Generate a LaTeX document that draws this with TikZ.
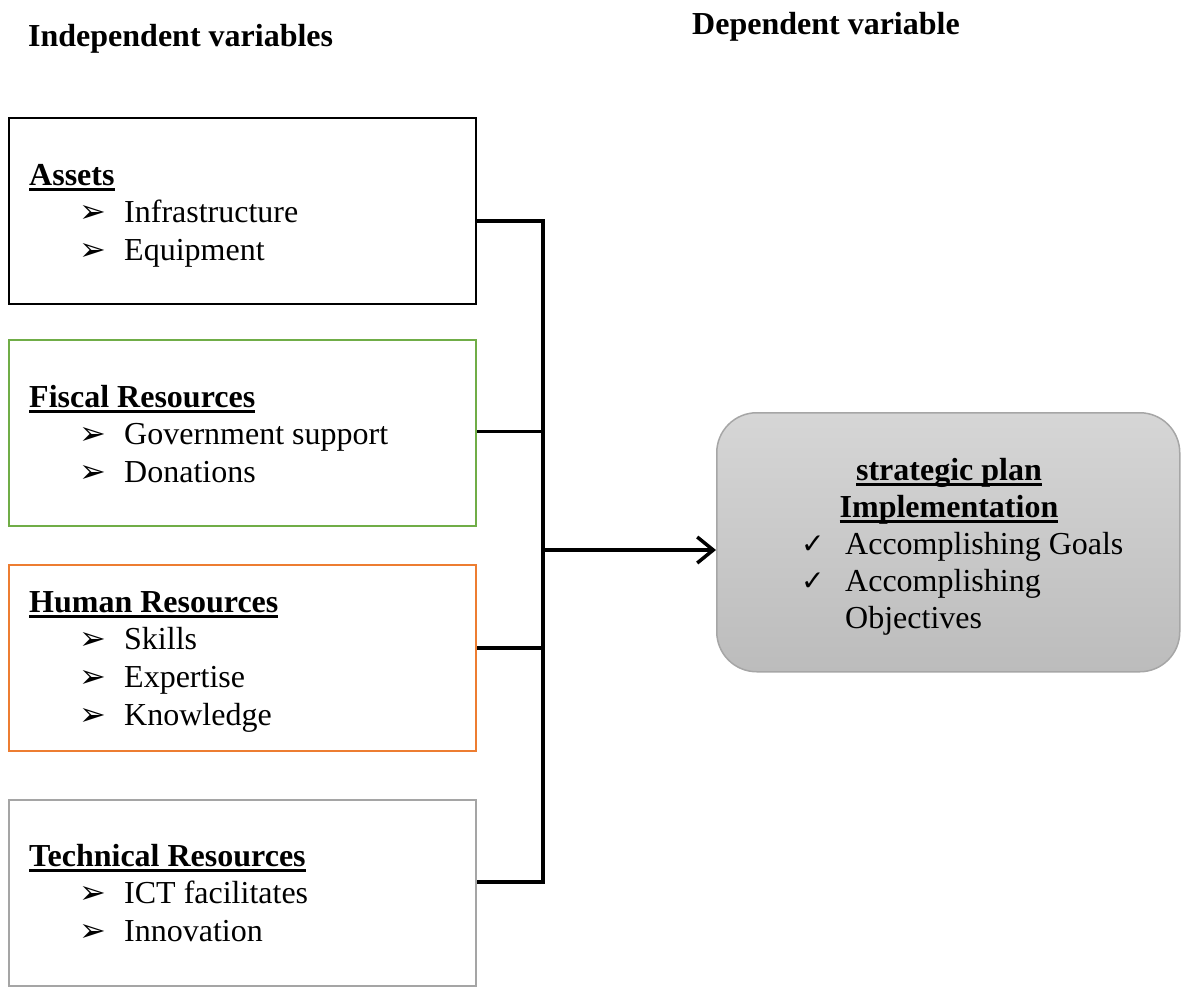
\documentclass[tikz,border=0pt]{standalone}
\usepackage{fontspec}
\setmainfont{Liberation Serif}
\newfontfamily\symfont{DejaVu Sans}
\usetikzlibrary{arrows.meta}
\newcommand{\myul}[1]{\setbox0=\hbox{#1}\rlap{\raisebox{-6pt}{\rule{\wd0}{2.6pt}}}\box0}
\newcommand{\arrbul}{{\symfont\fontsize{32}{32}\selectfont ➢}}
\newcommand{\chkbul}{{\symfont\fontsize{28}{28}\selectfont ✓}}
\definecolor{cgreen}{HTML}{70AD47}
\definecolor{corange}{HTML}{ED7D31}
\definecolor{cgray}{HTML}{A5A5A5}
\definecolor{ctop}{HTML}{D6D6D6}
\definecolor{cbot}{HTML}{BCBCBC}
\definecolor{cedge}{HTML}{A6A6A6}
\begin{document}
\begin{tikzpicture}[x=1pt,y=-1pt,
  ivbox/.style={draw, line width=2pt, minimum width=467pt, minimum height=186pt, anchor=north west, inner sep=0pt},
  txt/.style={anchor=base west, inner sep=0pt, font=\fontsize{32}{37}\selectfont},
  btxt/.style={anchor=base west, inner sep=0pt, font=\fontsize{32}{37}\selectfont\bfseries},
  ctxt/.style={anchor=base, inner sep=0pt, font=\fontsize{32}{37}\selectfont\bfseries},
  bul/.style={anchor=base west, inner sep=0pt},
  conn/.style={line width=3.2pt},
  dvbox/.style={rounded corners=40pt, draw=cedge, line width=1.5pt, top color=ctop, bottom color=cbot, minimum width=463pt, minimum height=259pt, anchor=north west, inner sep=0pt}
]
\useasboundingbox (0,0) rectangle (1181,994);

% headings
\node[btxt] (hind) at (28,46) {Independent variables};
\node[btxt] (hdep) at (692,34) {Dependent variable};

% boxes
\node[ivbox, draw=black] (a1) at (8,117) {};
\node[ivbox, draw=cgreen] (a2) at (8,339) {};
\node[ivbox, draw=corange] (a3) at (8,564) {};
\node[ivbox, draw=cgray] (a4) at (8,799) {};

% box 1
\node[btxt] (t1) at (29,185) {\myul{Assets}};
\node[bul] (b11) at (79,222) {\arrbul};
\node[txt] (i11) at (124,222) {Infrastructure};
\node[bul] (b12) at (79,260) {\arrbul};
\node[txt] (i12) at (124,260) {Equipment};

% box 2
\node[btxt] (t2) at (29,407) {\myul{Fiscal Resources}};
\node[bul] (b21) at (79,444) {\arrbul};
\node[txt] (i21) at (124,444) {Government support};
\node[bul] (b22) at (79,482) {\arrbul};
\node[txt] (i22) at (124,482) {Donations};

% box 3
\node[btxt] (t3) at (29,612) {\myul{Human Resources}};
\node[bul] (b31) at (79,649) {\arrbul};
\node[txt] (i31) at (124,649) {Skills};
\node[bul] (b32) at (79,687) {\arrbul};
\node[txt] (i32) at (124,687) {Expertise};
\node[bul] (b33) at (79,725) {\arrbul};
\node[txt] (i33) at (124,725) {Knowledge};

% box 4
\node[btxt] (t4) at (29,866) {\myul{Technical Resources}};
\node[bul] (b41) at (79,903) {\arrbul};
\node[txt] (i41) at (124,903) {ICT facilitates};
\node[bul] (b42) at (79,941) {\arrbul};
\node[txt] (i42) at (124,941) {Innovation};

% dependent box
\node[dvbox] (dv) at (716,412) {};
\node[ctxt] (d1) at (949,480) {\myul{strategic plan}};
\node[ctxt] (d2) at (949,517) {\myul{Implementation}};
\node[bul] (c1) at (801,553) {\chkbul};
\node[txt] (e1) at (845,554) {Accomplishing Goals};
\node[bul] (c2) at (801,590) {\chkbul};
\node[txt] (e2) at (845,591) {Accomplishing};
\node[txt] (e3) at (845,628) {Objectives};

% connectors
\coordinate (j) at (543,550);
\draw[conn] ([yshift=-10pt]a1.east) -| (j);
\draw[conn] ([yshift=1.5pt]a2.east) -| (j);
\draw[conn] ([yshift=10pt]a3.east) -| (j);
\draw[conn] ([yshift=11pt]a4.east) -| (j);
\draw[conn, -{Straight Barb[length=16pt,width=26pt,line width=3.5pt]}] (j) -- (dv.west |- j);
\end{tikzpicture}
\end{document}
